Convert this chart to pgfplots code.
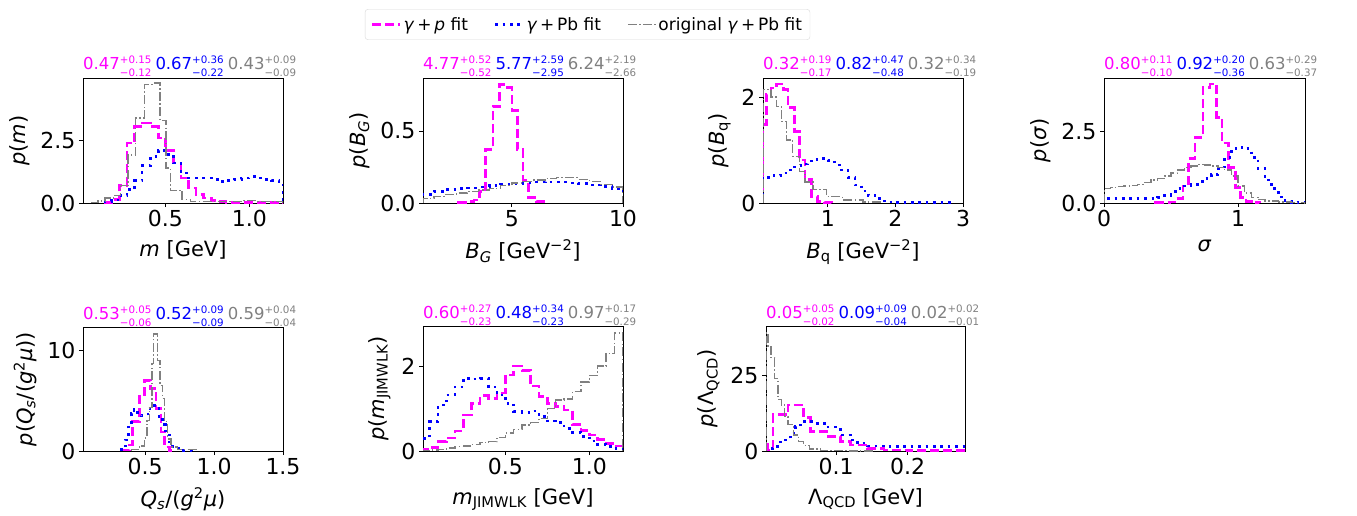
\documentclass[border=0pt]{standalone}
\usepackage{fontspec}
\setmainfont{DejaVu Sans}
\usepackage{pgfplots}
\pgfplotsset{compat=1.18}
\definecolor{cmag}{RGB}{255,0,255}
\definecolor{cblu}{RGB}{0,0,255}
\definecolor{cgry}{RGB}{128,128,128}
\newcommand{\stat}[4]{\textcolor{#1}{\fontsize{16.5}{18}\selectfont #2\rlap{\raisebox{6pt}{\fontsize{10.3}{11}\selectfont +#3}}\raisebox{-7.5pt}{\fontsize{10.3}{11}\selectfont −#4}}}
\newcommand{\stats}[9]{\stat{cmag}{#1}{#2}{#3}\hspace{4pt}\stat{cblu}{#4}{#5}{#6}\hspace{4pt}\stat{cgry}{#7}{#8}{#9}}
\pgfplotsset{
 panel/.style={scale only axis, width=200pt, height=125pt, ymin=0,
   axis line style={line width=0.8pt},
   every tick/.style={black, line width=0.8pt}, major tick length=4pt, tick align=outside,
   xtick pos=bottom, ytick pos=left,
   ticklabel style={font=\fontsize{22}{24}\selectfont},
   label style={font=\fontsize{21}{24}\selectfont},
   xlabel style={yshift=-6pt}, ylabel style={yshift=4pt},
   /pgf/number format/assume math mode=true,
   clip mode=individual,
   },
 pm/.style={cmag, line width=2.6pt, dash pattern=on 9pt off 4pt, const plot mark left, no marks},
 pb/.style={cblu, line width=2.6pt, dash pattern=on 2.6pt off 4.8pt, const plot mark left, no marks},
 pg/.style={cgry, line width=1.4pt, dash pattern=on 9pt off 2.4pt on 1.4pt off 2.4pt, const plot mark left, no marks},
}
\begin{document}
\begin{tikzpicture}
\useasboundingbox (0,0) rectangle (1357pt,-515pt);
% Panel 1: m
\begin{axis}[panel, at={(83pt,-203pt)}, anchor=south west,
  xmin=0.01, xmax=1.2, ymax=5.0,
  xtick={0.5,1.0}, xticklabels={0.5,1.0}, ytick={0,2.5}, yticklabels={0.0,2.5},
  xlabel={\textit{m} [GeV]}, ylabel={\textit{p}(\textit{m})},
  legend columns=3,
  legend image code/.code={\draw[#1] (0pt,0pt) -- (28pt,0pt);},
  legend style={at={(axis description cs:2.5225,1.428)}, anchor=center, draw=black!15, rounded corners=3pt,
    font=\fontsize{17}{19}\selectfont, inner xsep=6pt, inner ysep=6pt,
    /tikz/every even column/.append style={column sep=24pt}},
  ]
\addplot[pm] coordinates {(0.14,0)(0.14,0.02)(0.18,0.15)(0.226,0.7)(0.272,2.4)(0.318,3.05)(0.362,3.2)(0.412,3.05)(0.458,2.6)(0.502,2.1)(0.548,1.6)(0.592,1.0)(0.638,0.6)(0.682,0.35)(0.728,0.2)(0.774,0.1)(0.818,0.06)(0.862,0.02)(1.2,0)};
\addlegendentry{\textit{γ}\,+\,\textit{p} fit}
\addplot[pb] coordinates {(0.14,0)(0.14,0.05)(0.18,0.12)(0.226,0.3)(0.272,0.55)(0.318,0.9)(0.362,1.5)(0.412,1.85)(0.458,2.1)(0.502,1.95)(0.548,1.6)(0.592,1.2)(0.638,1.0)(0.682,1.0)(0.728,1.0)(0.774,0.95)(0.818,0.85)(0.862,0.9)(0.908,0.95)(0.952,1.0)(0.998,1.05)(1.042,1.0)(1.088,0.95)(1.132,0.9)(1.176,0.8)(1.2,0)};
\addlegendentry{\textit{γ}\,+\,Pb fit}
\addplot[pg] coordinates {(0.06,0)(0.06,0.03)(0.10,0.08)(0.14,0.2)(0.19,0.3)(0.232,0.7)(0.278,1.92)(0.322,3.4)(0.376,4.75)(0.422,4.8)(0.468,3.3)(0.505,1.4)(0.53,0.5)(0.6,0.15)(0.65,0.06)(0.95,0.1)(1.05,0.05)(1.2,0)};
\addlegendentry{original \textit{γ}\,+\,Pb fit}
\node[anchor=base west, inner sep=0pt, yshift=9pt] at (axis description cs:0,1) {\stats{0.47}{0.15}{0.12}{0.67}{0.36}{0.22}{0.43}{0.09}{0.09}};
\end{axis}
% Panel 2: B_G
\begin{axis}[panel, at={(423pt,-203pt)}, anchor=south west,
  xmin=1, xmax=10, ymax=0.867,
  xtick={5,10}, xticklabels={5,10}, ytick={0,0.5}, yticklabels={0.0,0.5},
  xlabel={\textit{B\textsubscript{G}} [GeV\textsuperscript{−2}]}, ylabel={\textit{p}(\textit{B\textsubscript{G}})}]
\addplot[pm] coordinates {(2.6,0)(2.6,0.003)(3.0,0.01)(3.3,0.02)(3.55,0.08)(3.8,0.37)(4.15,0.67)(4.45,0.82)(4.75,0.80)(5.0,0.64)(5.25,0.37)(5.5,0.16)(5.75,0.04)(6.1,0.01)(6.5,0)};
\addplot[pb] coordinates {(1,0)(1,0.06)(1.5,0.08)(2.0,0.095)(2.5,0.10)(3.0,0.105)(3.5,0.11)(4.0,0.12)(4.5,0.13)(5.0,0.135)(5.5,0.14)(6.0,0.145)(6.5,0.147)(7.0,0.146)(7.5,0.14)(8.0,0.135)(8.5,0.125)(9.0,0.115)(9.5,0.10)(10,0)};
\addplot[pg] coordinates {(1,0)(1,0.03)(1.5,0.045)(2.0,0.06)(2.5,0.07)(3.0,0.08)(3.5,0.09)(4.0,0.10)(4.5,0.12)(5.0,0.14)(5.5,0.15)(6.0,0.16)(6.5,0.17)(7.0,0.175)(7.5,0.175)(8.0,0.165)(8.5,0.15)(9.0,0.13)(9.5,0.11)(10,0)};
\node[anchor=base west, inner sep=0pt, yshift=9pt] at (axis description cs:0,1) {\stats{4.77}{0.52}{0.52}{5.77}{2.59}{2.95}{6.24}{2.19}{2.66}};
\end{axis}
% Panel 3: B_q
\begin{axis}[panel, at={(763pt,-203pt)}, anchor=south west,
  xmin=0.04, xmax=3, ymax=2.36,
  xtick={1,2,3}, xticklabels={1,2,3}, ytick={0,2}, yticklabels={0,2},
  xlabel={\textit{B}\textsubscript{q} [GeV\textsuperscript{−2}]}, ylabel={\textit{p}(\textit{B}\textsubscript{q})}]
\addplot[pm] coordinates {(0.04,0)(0.04,1.48)(0.09,2.05)(0.16,2.17)(0.24,2.25)(0.34,2.14)(0.41,1.80)(0.51,1.35)(0.58,0.81)(0.66,0.44)(0.76,0.12)(0.85,0.03)(0.95,0.01)(1.05,0)};
\addplot[pb] coordinates {(0.04,0)(0.04,0.46)(0.1,0.48)(0.2,0.52)(0.3,0.57)(0.4,0.62)(0.5,0.68)(0.6,0.74)(0.7,0.79)(0.8,0.82)(0.9,0.84)(1.0,0.80)(1.1,0.72)(1.2,0.62)(1.3,0.48)(1.4,0.34)(1.5,0.23)(1.6,0.14)(1.7,0.08)(1.8,0.04)(1.9,0.02)(2.0,0.005)(2.85,0)};
\addplot[pg] coordinates {(0.04,0)(0.04,2.14)(0.16,2.0)(0.24,1.82)(0.31,1.54)(0.39,1.19)(0.48,0.88)(0.58,0.59)(0.66,0.40)(0.78,0.25)(0.98,0.12)(1.22,0.06)(1.52,0.02)(1.8,0)};
\node[anchor=base west, inner sep=0pt, yshift=9pt] at (axis description cs:0,1) {\stats{0.32}{0.19}{0.17}{0.82}{0.47}{0.48}{0.32}{0.34}{0.19}};
\end{axis}
% Panel 4: sigma
\begin{axis}[panel, at={(1104pt,-203pt)}, anchor=south west, width=201pt,
  xmin=0, xmax=1.5, ymax=4.38,
  xtick={0,1}, xticklabels={0,1}, ytick={0,2.5}, yticklabels={0.0,2.5},
  xlabel={\textit{σ}}, ylabel={\textit{p}(\textit{σ})}]
\addplot[pm] coordinates {(0.38,0)(0.38,0.01)(0.49,0.03)(0.54,0.15)(0.59,0.6)(0.63,1.55)(0.68,2.3)(0.74,4.05)(0.79,4.17)(0.84,3.0)(0.88,2.1)(0.93,1.25)(0.98,0.55)(1.02,0.2)(1.06,0.06)(1.11,0.02)(1.16,0)};
\addplot[pb] coordinates {(0,0)(0,0.15)(0.4,0.2)(0.45,0.27)(0.5,0.4)(0.55,0.5)(0.6,0.6)(0.65,0.65)(0.7,0.75)(0.75,0.85)(0.8,1.0)(0.85,1.2)(0.9,1.6)(0.95,1.9)(1.0,1.95)(1.05,1.9)(1.1,1.6)(1.15,1.2)(1.2,0.8)(1.25,0.5)(1.3,0.21)(1.35,0.07)(1.4,0.02)(1.5,0)};
\addplot[pg] coordinates {(0,0)(0,0.5)(0.05,0.55)(0.1,0.58)(0.15,0.6)(0.2,0.62)(0.25,0.65)(0.3,0.72)(0.35,0.8)(0.4,0.85)(0.45,0.95)(0.5,1.05)(0.55,1.15)(0.6,1.25)(0.65,1.3)(0.7,1.35)(0.75,1.33)(0.8,1.3)(0.85,1.25)(0.9,1.15)(0.95,0.95)(1.0,0.6)(1.05,0.35)(1.1,0.2)(1.15,0.12)(1.2,0.07)(1.3,0.03)(1.4,0.01)(1.5,0)};
\node[anchor=base west, inner sep=0pt, yshift=9pt] at (axis description cs:0,1) {\stats{0.80}{0.11}{0.10}{0.92}{0.20}{0.36}{0.63}{0.29}{0.37}};
\end{axis}
% Panel 5: Qs
\begin{axis}[panel, at={(83pt,-451pt)}, anchor=south west, height=124pt,
  xmin=0.05, xmax=1.5, ymax=12.3,
  xtick={0.5,1.0,1.5}, xticklabels={0.5,1.0,1.5}, ytick={0,10}, yticklabels={0,10},
  xlabel={\textit{Q\textsubscript{s}}/(\textit{g}\textsuperscript{2}\textit{μ})}, ylabel={\textit{p}(\textit{Q\textsubscript{s}}/(\textit{g}\textsuperscript{2}\textit{μ}))}]
\addplot[pm] coordinates {(0.33,0)(0.33,0.1)(0.387,0.6)(0.41,2.9)(0.46,5.4)(0.495,7.0)(0.54,6.2)(0.58,4.2)(0.615,1.9)(0.64,0.4)(0.675,0.05)(0.7,0)};
\addplot[pb] coordinates {(0.33,0)(0.33,0.2)(0.357,1.1)(0.38,2.7)(0.40,3.7)(0.42,4.1)(0.447,3.8)(0.47,3.5)(0.52,4.2)(0.555,4.5)(0.60,3.4)(0.627,2.6)(0.65,1.75)(0.675,0.9)(0.70,0.25)(0.747,0.08)(0.84,0)};
\addplot[pg] coordinates {(0.40,0)(0.40,0.15)(0.46,0.5)(0.495,1.3)(0.515,3.0)(0.53,4.3)(0.55,8.7)(0.562,11.6)(0.59,9.0)(0.608,6.5)(0.627,5.2)(0.64,2.9)(0.663,1.2)(0.687,0.4)(0.735,0.15)(0.87,0)};
\node[anchor=base west, inner sep=0pt, yshift=8pt] at (axis description cs:0,1) {\stats{0.53}{0.05}{0.06}{0.52}{0.09}{0.09}{0.59}{0.04}{0.04}};
\end{axis}
% Panel 6: m_JIMWLK
\begin{axis}[panel, at={(423pt,-451pt)}, anchor=south west,
  xmin=0.01, xmax=1.2, ymax=2.94,
  xtick={0.5,1.0}, xticklabels={0.5,1.0}, ytick={0,2}, yticklabels={0,2},
  xlabel={\textit{m}\textsubscript{JIMWLK} [GeV]}, ylabel={\textit{p}(\textit{m}\textsubscript{JIMWLK})}]
\addplot[pm] coordinates {(0,0)(0,0.03)(0.05,0.08)(0.10,0.22)(0.15,0.31)(0.20,0.47)(0.25,0.85)(0.30,1.12)(0.35,1.30)(0.40,1.24)(0.45,1.36)(0.50,1.79)(0.55,2.0)(0.60,1.9)(0.65,1.53)(0.70,1.28)(0.75,1.12)(0.80,1.04)(0.85,0.96)(0.90,0.62)(0.95,0.48)(1.00,0.38)(1.05,0.27)(1.10,0.18)(1.15,0.12)(1.2,0)};
\addplot[pb] coordinates {(0,0)(0,0.3)(0.05,0.69)(0.10,1.08)(0.15,1.32)(0.20,1.51)(0.25,1.71)(0.30,1.69)(0.35,1.71)(0.40,1.51)(0.45,1.32)(0.50,1.12)(0.55,0.93)(0.60,0.91)(0.65,0.94)(0.70,0.81)(0.75,0.71)(0.80,0.67)(0.85,0.53)(0.90,0.44)(0.95,0.34)(1.00,0.24)(1.05,0.16)(1.10,0.10)(1.15,0.06)(1.2,0)};
\addplot[pg] coordinates {(0,0)(0,0.01)(0.05,0.02)(0.10,0.04)(0.15,0.07)(0.20,0.10)(0.25,0.12)(0.30,0.15)(0.35,0.20)(0.40,0.22)(0.45,0.32)(0.50,0.42)(0.55,0.50)(0.60,0.61)(0.65,0.67)(0.70,0.77)(0.75,1.0)(0.80,1.2)(0.85,1.22)(0.90,1.40)(0.95,1.62)(1.00,1.78)(1.05,2.0)(1.10,2.3)(1.15,2.78)(1.2,0)};
\node[anchor=base west, inner sep=0pt, yshift=8pt] at (axis description cs:0,1) {\stats{0.60}{0.27}{0.23}{0.48}{0.34}{0.23}{0.97}{0.17}{0.29}};
\end{axis}
% Panel 7: Lambda_QCD
\begin{axis}[panel, at={(766pt,-451pt)}, anchor=south west, width=199pt,
  xmin=0.002, xmax=0.28, ymax=41.4,
  xtick={0.1,0.2}, xticklabels={0.1,0.2}, ytick={0,25}, yticklabels={0,25},
  xlabel={Λ\textsubscript{QCD} [GeV]}, ylabel={\textit{p}(Λ\textsubscript{QCD})}]
\addplot[pm] coordinates {(0.002,0)(0.002,3.1)(0.005,0.3)(0.012,12.0)(0.033,15.3)(0.054,11.0)(0.064,6.4)(0.087,4.8)(0.106,3.1)(0.12,2.0)(0.144,0.9)(0.167,0.3)(0.2,0.1)(0.28,0)};
\addplot[pb] coordinates {(0.002,0)(0.002,0.8)(0.012,1.5)(0.022,3.7)(0.036,5.9)(0.043,8.1)(0.05,9.8)(0.066,9.2)(0.087,7.9)(0.106,5.3)(0.12,3.7)(0.13,2.6)(0.144,1.7)(0.172,1.4)(0.28,0)};
\addplot[pg] coordinates {(0.002,0)(0.002,39.2)(0.005,34.8)(0.009,30.9)(0.014,24.0)(0.019,17.0)(0.0235,15.3)(0.028,11.4)(0.033,8.7)(0.040,5.3)(0.047,3.1)(0.054,1.8)(0.063,0.7)(0.078,0.2)(0.115,0.05)(0.15,0)};
\node[anchor=base west, inner sep=0pt, yshift=8pt] at (axis description cs:0,1) {\stats{0.05}{0.05}{0.02}{0.09}{0.09}{0.04}{0.02}{0.02}{0.01}};
\end{axis}
\end{tikzpicture}
\end{document}
